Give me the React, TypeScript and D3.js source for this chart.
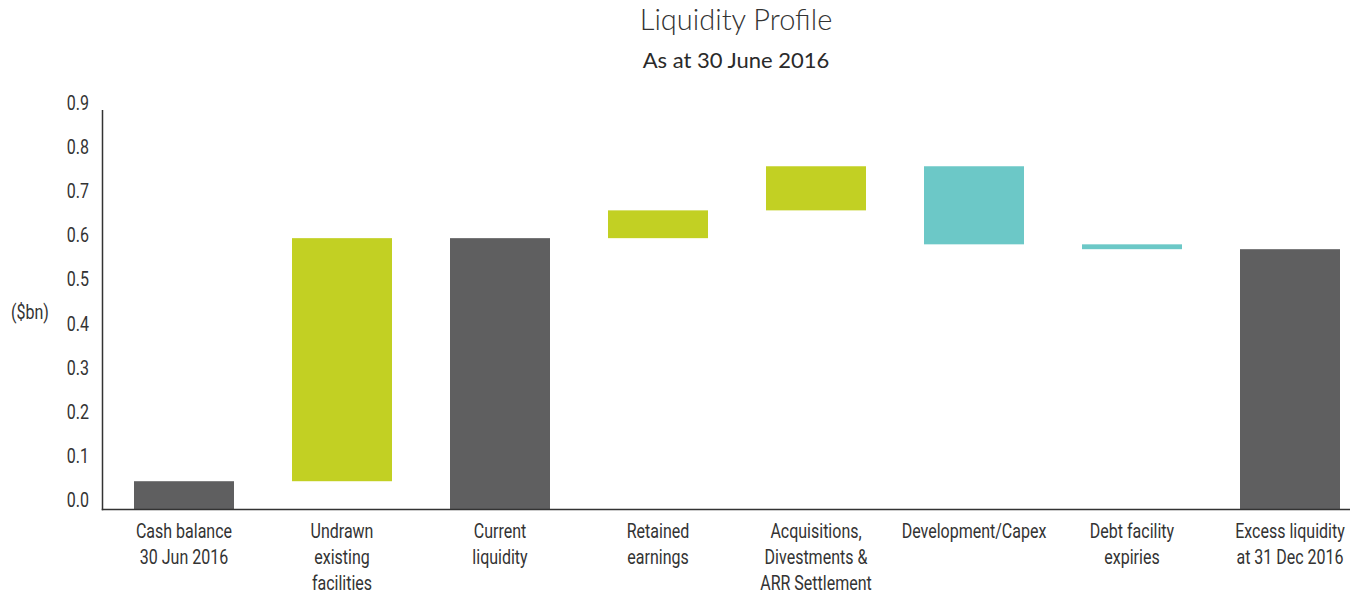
import React from "react";
import { scaleBand, scaleLinear } from "d3";

// waterfall data ($bn)
const categories = [
  "Cash balance\n30 Jun 2016",
  "Undrawn\nexisting\nfacilities",
  "Current\nliquidity",
  "Retained\nearnings",
  "Acquisitions,\nDivestments &\nARR Settlement",
  "Development/Capex",
  "Debt facility\nexpiries",
  "Excess liquidity\nat 31 Dec 2016",
];
// null means "total" bar (running sum so far)
const changes: (number | null)[] = [0.063, 0.551, null, 0.063, 0.1, -0.177, -0.011, null];
const kinds = ["total", "up", "total", "up", "up", "down", "down", "total"];
const yTicks = [0, 0.1, 0.2, 0.3, 0.4, 0.5, 0.6, 0.7, 0.8, 0.9];

const colors: Record<string, string> = {
  total: "#5f5f60",
  up: "#c2d023",
  down: "#6cc8c7",
};

// no condensed font installed -> squeeze Roboto horizontally
const labelFont = "Roboto, 'Liberation Sans', sans-serif";
const squeeze = 0.8;

const App = () => {
  const width = 1350;
  const height = 596;
  const axisX = 102.5;
  const axisY = 509.5;

  const xScale = scaleBand()
    .domain(categories)
    .range([102, 1372])
    .paddingInner(58 / 158)
    .paddingOuter(32 / 158);

  const yScale = scaleLinear().domain([0, 0.9]).range([509, 112]);

  // build bar extents
  let running = 0;
  const bars = categories.map((c, i) => {
    const ch = changes[i];
    let y0: number, y1: number;
    if (i === 0) {
      y0 = 0;
      y1 = ch as number;
      running = y1;
    } else if (ch === null) {
      y0 = 0;
      y1 = running;
    } else {
      y0 = running;
      y1 = running + ch;
      running = y1;
    }
    return { c, lo: Math.min(y0, y1), hi: Math.max(y0, y1), kind: kinds[i] };
  });

  return (
    <svg
      width={width}
      height={height}
      style={{ position: "absolute", left: 0, top: 0, background: "#fff" }}
    >
      <text
        x={736}
        y={30}
        textAnchor="middle"
        fontFamily="Lato, 'Open Sans', sans-serif"
        fontWeight={300}
        fontSize={29}
        fill="#333"
      >
        Liquidity Profile
      </text>
      <text
        x={736}
        y={68}
        textAnchor="middle"
        fontFamily="Lato, 'Open Sans', sans-serif"
        fontSize={22}
        fill="#2a2a2a"
      >
        As at 30 June 2016
      </text>

      {bars.map((d) => (
        <rect
          key={d.c}
          x={xScale(d.c)}
          y={yScale(d.hi)}
          width={xScale.bandwidth()}
          height={yScale(d.lo) - yScale(d.hi)}
          fill={colors[d.kind]}
        />
      ))}

      {/* axes */}
      <line x1={axisX} x2={axisX} y1={110} y2={axisY + 0.75} stroke="#333" strokeWidth={1.5} />
      <line x1={axisX - 0.75} x2={width} y1={axisY} y2={axisY} stroke="#333" strokeWidth={1.5} />

      {yTicks.map((t) => (
        <g key={t} transform={`translate(89,${yScale(t) - 9}) scale(${squeeze},1)`}>
          <text dy="0.35em" textAnchor="end" fontFamily={labelFont} fontSize={20} fill="#333">
            {t.toFixed(1)}
          </text>
        </g>
      ))}

      <g transform={`translate(30,312) scale(${squeeze},1)`}>
        <text dy="0.35em" textAnchor="middle" fontFamily={labelFont} fontSize={20} fill="#333">
          ($bn)
        </text>
      </g>

      {categories.map((c) => (
        <g
          key={c}
          transform={`translate(${(xScale(c) as number) + xScale.bandwidth() / 2},0) scale(${squeeze},1)`}
        >
          <text textAnchor="middle" fontFamily={labelFont} fontSize={20} fill="#333">
            {c.split("\n").map((line, j) => (
              <tspan key={j} x={0} y={531 + j * 26} dy="0.35em">
                {line}
              </tspan>
            ))}
          </text>
        </g>
      ))}
    </svg>
  );
};

export default App;
